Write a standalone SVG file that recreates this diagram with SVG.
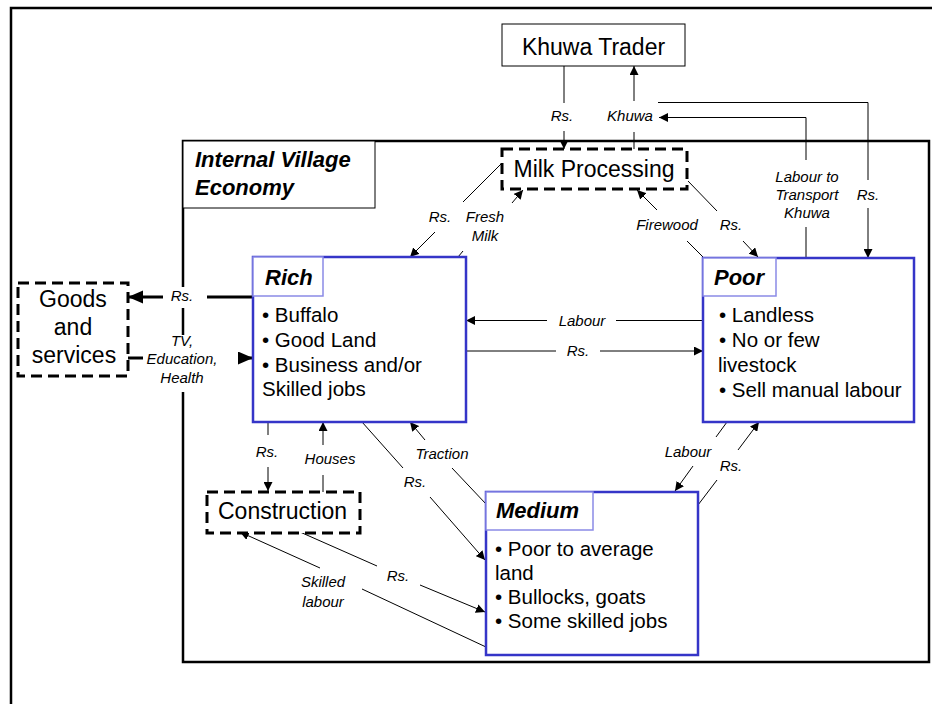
<svg xmlns="http://www.w3.org/2000/svg" width="932" height="704" viewBox="0 0 932 704">
<defs>
<marker id="ah" markerUnits="userSpaceOnUse" markerWidth="10" markerHeight="9" refX="9" refY="4.5" orient="auto"><path d="M0,0 L9,4.5 L0,9 z" fill="#000"/></marker>
<marker id="ahb" markerUnits="userSpaceOnUse" markerWidth="16" markerHeight="14" refX="15" refY="6.5" orient="auto"><path d="M0,0 L15,6.5 L0,13 z" fill="#000"/></marker>
</defs>
<style>
.frame{fill:none;stroke:#000;stroke-width:2.5}
.plain{fill:#fff;stroke:#000;stroke-width:1}
.dash{fill:#fff;stroke:#000;stroke-width:3;stroke-dasharray:11 6}
.grp{fill:#fff;stroke:#3535c8;stroke-width:2.5}
.ttl{fill:#fff;stroke:#8a8ae6;stroke-width:1.5}
.c{fill:none;stroke:#000;stroke-width:1}
.ca{fill:none;stroke:#000;stroke-width:1;marker-end:url(#ah)}
.thick{fill:none;stroke:#000;stroke-width:3}
.lbl{font-family:"Liberation Sans",Arial,sans-serif;font-style:italic;font-size:15px;fill:#000;text-anchor:middle}
.big{font-family:"Liberation Sans",Arial,sans-serif;font-size:23px;fill:#000}
.head{font-family:"Liberation Sans",Arial,sans-serif;font-weight:bold;font-style:italic;font-size:22px;fill:#000}
.bul{font-family:"Liberation Sans",Arial,sans-serif;font-size:20.5px;fill:#000}
</style>
<rect width="932" height="704" fill="#fff"/>
<path class="frame" d="M11,704 V8 H932"/>
<rect id="village" class="frame" x="183" y="141" width="746" height="521"/>

<g id="connectors">
<!-- label backgrounds on the left edge -->
<rect x="164" y="287" width="42" height="21" fill="#fff"/>
<rect x="144" y="335" width="93" height="57" fill="#fff"/>
<!-- Khuwa Trader -> Milk (Rs.) -->
<path class="c" d="M564,66 V103"/><path class="ca" d="M564,131 V149"/>
<!-- Milk -> Khuwa Trader (Khuwa) -->
<path class="c" d="M634,149 V132"/><path class="ca" d="M634,101 V66"/>
<!-- Poor -> Khuwa (Labour to transport) -->
<path class="c" d="M806,258 V227"/><path class="ca" d="M806,160 V117.5 H659"/>
<!-- Trader Rs -> Poor -->
<path class="c" d="M658,102.5 H868 V180"/><path class="ca" d="M868,208 V258"/>
<!-- Firewood -->
<path class="c" d="M704,258 L687,241"/><path class="ca" d="M657,210 L637,190"/>
<!-- Milk -> Poor Rs -->
<path class="c" d="M688,181 L717,211"/><path class="ca" d="M743,241 L758,257"/>
<!-- Milk -> Rich Rs -->
<path class="c" d="M502,163 L463,202"/><path class="ca" d="M435,232 L410,257"/>
<!-- Fresh milk -->
<path class="c" d="M458,257 L463,251"/><path class="ca" d="M512,203 L523,190"/>
<!-- Labour Poor -> Rich -->
<path class="c" d="M703,320.5 H616"/><path class="ca" d="M547,320.5 H466"/>
<!-- Rs Rich -> Poor -->
<path class="c" d="M466,351 H556"/><path class="ca" d="M600,351 H703"/>
<!-- Rich -> Goods Rs (thick) -->
<path class="thick" d="M253,297 H207"/>
<path class="thick" d="M163,297 H128" style="marker-end:url(#ahb)"/>
<!-- Goods -> Rich TV (thick) -->
<path class="thick" d="M128,358 H143"/>
<path class="thick" d="M238,358 H253" style="marker-end:url(#ahb)"/>
<!-- Rich -> Construction Rs -->
<path class="c" d="M268,422 V435"/><path class="ca" d="M268,467 V491"/>
<!-- Houses -->
<path class="c" d="M323,492 V475"/><path class="ca" d="M323,445 V422"/>
<!-- Traction -->
<path class="c" d="M486,504 L452,468"/><path class="ca" d="M425,440 L410,422"/>
<!-- Rich -> Medium Rs -->
<path class="c" d="M362,422 L403,468"/><path class="ca" d="M430,497 L485,560"/>
<!-- Skilled labour -->
<path class="c" d="M486,647 L362,589"/><path class="ca" d="M320,568 L240,532"/>
<!-- Construction -> Medium Rs -->
<path class="c" d="M300,532 L377,566"/><path class="ca" d="M420,585 L485,612"/>
<!-- Poor -> Medium Labour -->
<path class="c" d="M727,422 L716,437"/><path class="ca" d="M693,466 L675,491"/>
<!-- Medium -> Poor Rs -->
<path class="c" d="M698,505 L717,480"/><path class="ca" d="M738,450 L759,422"/>
</g>

<g id="labels">
<text class="lbl" x="562" y="121">Rs.</text>
<text class="lbl" x="630" y="121">Khuwa</text>
<text class="lbl" x="807" y="182">Labour to</text>
<text class="lbl" x="807" y="200">Transport</text>
<text class="lbl" x="807" y="218">Khuwa</text>
<text class="lbl" x="868" y="200">Rs.</text>
<text class="lbl" x="667" y="230">Firewood</text>
<text class="lbl" x="731" y="230">Rs.</text>
<text class="lbl" x="440" y="222">Rs.</text>
<text class="lbl" x="485" y="222">Fresh</text>
<text class="lbl" x="485" y="241">Milk</text>
<text class="lbl" x="582" y="325.5">Labour</text>
<text class="lbl" x="578" y="356">Rs.</text>
<text class="lbl" x="182" y="301">Rs.</text>
<text class="lbl" x="182" y="346">TV,</text>
<text class="lbl" x="182" y="364">Education,</text>
<text class="lbl" x="182" y="383">Health</text>
<text class="lbl" x="267" y="457">Rs.</text>
<text class="lbl" x="330" y="464">Houses</text>
<text class="lbl" x="442" y="459">Traction</text>
<text class="lbl" x="415" y="487">Rs.</text>
<text class="lbl" x="323" y="587">Skilled</text>
<text class="lbl" x="323" y="607">labour</text>
<text class="lbl" x="398" y="581">Rs.</text>
<text class="lbl" x="688" y="457">Labour</text>
<text class="lbl" x="731" y="471">Rs.</text>
</g>

<g id="internal-village">
<rect class="plain" x="183" y="141" width="192" height="67"/>
<text class="head" x="195" y="167" font-size="23">Internal Village</text>
<text class="head" x="195" y="195" font-size="23">Economy</text>
</g>

<g id="khuwa-trader">
<rect class="plain" x="502" y="24" width="183" height="42"/>
<text class="big" x="593.5" y="55" text-anchor="middle" font-size="26">Khuwa Trader</text>
</g>

<g id="milk-processing">
<rect class="dash" x="502" y="149" width="185" height="40"/>
<text class="big" x="594" y="177" text-anchor="middle">Milk Processing</text>
</g>

<g id="goods">
<rect class="dash" x="18" y="283" width="110" height="93"/>
<text class="big" x="73" y="307" text-anchor="middle">Goods</text>
<text class="big" x="73" y="335" text-anchor="middle">and</text>
<text class="big" x="74" y="363" text-anchor="middle">services</text>
</g>

<g id="construction">
<rect class="dash" x="207" y="492" width="153" height="41"/>
<text class="big" x="218" y="519">Construction</text>
</g>

<g id="rich">
<rect class="grp" x="253" y="257" width="213" height="165"/>
<rect class="ttl" x="253" y="257" width="70" height="39"/>
<text class="head" x="265" y="285">Rich</text>
<text class="bul" x="262" y="322">• Buffalo</text>
<text class="bul" x="262" y="347">• Good Land</text>
<text class="bul" x="262" y="372">• Business and/or</text>
<text class="bul" x="262" y="396">Skilled jobs</text>
</g>

<g id="poor">
<rect class="grp" x="703" y="258" width="211" height="164"/>
<rect class="ttl" x="703" y="258" width="73" height="38"/>
<text class="head" x="714" y="285">Poor</text>
<text class="bul" x="719" y="322">• Landless</text>
<text class="bul" x="719" y="347">• No or few</text>
<text class="bul" x="718" y="372">livestock</text>
<text class="bul" x="719" y="397">• Sell manual labour</text>
</g>

<g id="medium">
<rect class="grp" x="486" y="492" width="212" height="163"/>
<rect class="ttl" x="486" y="492" width="107" height="38"/>
<text class="head" x="496" y="518">Medium</text>
<text class="bul" x="495" y="556">• Poor to average</text>
<text class="bul" x="495" y="580">land</text>
<text class="bul" x="495" y="604">• Bullocks, goats</text>
<text class="bul" x="495" y="628">• Some skilled jobs</text>
</g>
</svg>
